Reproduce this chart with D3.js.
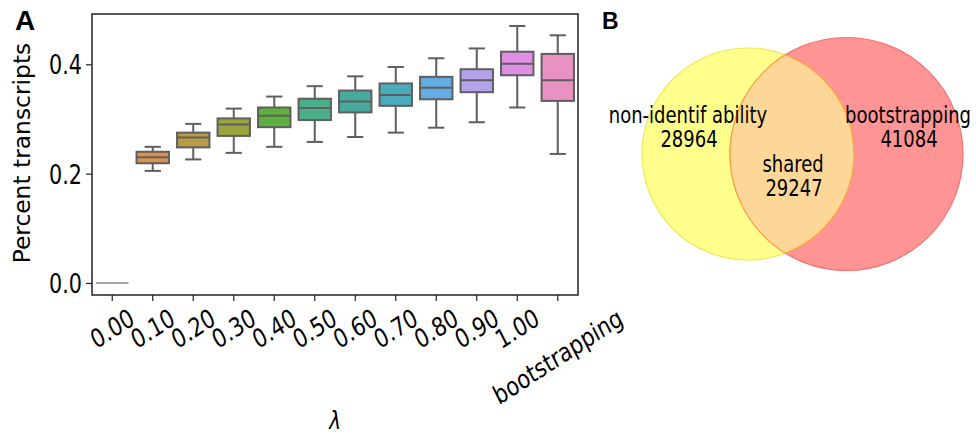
<!DOCTYPE html>
<html>
<head>
<meta charset="utf-8">
<script src="https://cdn.jsdelivr.net/npm/d3@7"></script>
<style>
  body { margin: 0; background: #fff; }
  svg text { font-family: "DejaVu Sans Condensed", "DejaVu Sans", sans-serif; font-stretch: condensed; fill: #000; }
</style>
</head>
<body>
<svg id="chart" width="976" height="434"></svg>
<script>
// ---- data ----
var categories = ["0.00", "0.10", "0.20", "0.30", "0.40", "0.50", "0.60", "0.70", "0.80", "0.90", "1.00", "bootstrapping"];
var whiskerLow  = [0, 0.205, 0.226, 0.238, 0.249, 0.258, 0.267, 0.275, 0.284, 0.294, 0.321, 0.236];
var q1          = [0, 0.219, 0.248, 0.269, 0.285, 0.298, 0.312, 0.324, 0.336, 0.349, 0.380, 0.333];
var medians     = [0, 0.230, 0.266, 0.290, 0.306, 0.320, 0.332, 0.344, 0.357, 0.371, 0.401, 0.371];
var q3          = [0, 0.240, 0.275, 0.301, 0.321, 0.337, 0.352, 0.365, 0.377, 0.391, 0.423, 0.419];
var whiskerHigh = [0, 0.249, 0.291, 0.319, 0.341, 0.360, 0.378, 0.395, 0.411, 0.429, 0.470, 0.453];
var boxColors = ["#e8879a", "#e0914e", "#b89b45", "#9aa53d", "#5db03f", "#4bb08a", "#47aa9b", "#4aabbd", "#63ace4", "#b4a3ea", "#df8fe6", "#e991c1"];
var yTicks = [0, 0.2, 0.4];

var vennNames = ["non-identif ability", "bootstrapping"];
var vennOnly = [28964, 41084];
var sharedName = "shared";
var sharedCount = 29247;

var svg = d3.select("#chart");
var stretch = 1.13; // text in the figure is a little taller than the font

// places a text at (x,y) with the vertical stretch
function stretched(sel, tx, ty, rot) {
    sel.attr("x", 0).attr("y", 0)
       .attr("transform", "translate(" + tx + "," + ty + ") scale(1," + stretch + ")" + (rot ? " rotate(" + rot + ")" : ""));
}

// ---- panel A: box plot ----
var frame = { left: 92, right: 578, top: 14, bottom: 295 };

var x = d3.scaleBand()
    .domain(categories)
    .range([frame.left, frame.right]);

var y = d3.scaleLinear()
    .domain([-0.022, 0.492])
    .range([frame.bottom, frame.top]);

var rows = categories.map(function (c, i) {
    return { cat: c, lo: whiskerLow[i], q1: q1[i], med: medians[i], q3: q3[i], hi: whiskerHigh[i], color: boxColors[i] };
});

var boxW = x.bandwidth() * 0.8;
var lineCol = "#5f5f5f";

var box = svg.append("g").selectAll("g")
    .data(rows)
    .enter()
    .append("g")
    .attr("transform", function (d) { return "translate(" + (x(d.cat) + x.bandwidth() / 2) + ",0)"; });

// whiskers
box.append("line")
    .attr("x1", 0).attr("x2", 0)
    .attr("y1", function (d) { return y(d.hi); })
    .attr("y2", function (d) { return y(d.q3); })
    .attr("stroke", lineCol).attr("stroke-width", 2);
box.append("line")
    .attr("x1", 0).attr("x2", 0)
    .attr("y1", function (d) { return y(d.q1); })
    .attr("y2", function (d) { return y(d.lo); })
    .attr("stroke", lineCol).attr("stroke-width", 2);
// caps
box.filter(function (d) { return d.hi > d.lo; })
    .selectAll(".cap")
    .data(function (d) { return [d.hi, d.lo]; })
    .enter()
    .append("line")
    .attr("x1", -boxW / 4).attr("x2", boxW / 4)
    .attr("y1", function (v) { return y(v); })
    .attr("y2", function (v) { return y(v); })
    .attr("stroke", lineCol).attr("stroke-width", 2);

box.append("rect")
    .attr("x", -boxW / 2)
    .attr("width", boxW)
    .attr("y", function (d) { return y(d.q3); })
    .attr("height", function (d) { return y(d.q1) - y(d.q3); })
    .attr("fill", function (d) { return d.color; })
    .attr("stroke", function (d) { return d.hi > d.lo ? lineCol : "#8a8a8a"; })
    .attr("stroke-width", function (d) { return d.hi > d.lo ? 2 : 1.2; });

box.append("line")
    .attr("x1", -boxW / 2).attr("x2", boxW / 2)
    .attr("y1", function (d) { return y(d.med); })
    .attr("y2", function (d) { return y(d.med); })
    .attr("stroke", function (d) { return d.hi > d.lo ? lineCol : "#8a8a8a"; })
    .attr("stroke-width", function (d) { return d.hi > d.lo ? 2 : 1.5; });

// frame
svg.append("rect")
    .attr("x", frame.left).attr("y", frame.top)
    .attr("width", frame.right - frame.left)
    .attr("height", frame.bottom - frame.top)
    .attr("fill", "none")
    .attr("stroke", "#222").attr("stroke-width", 1.5);

// y axis
var yAxis = svg.append("g")
    .attr("transform", "translate(" + frame.left + ",0)")
    .call(d3.axisLeft(y).tickValues(yTicks).tickFormat(d3.format(".1f")).tickSize(6).tickPadding(4));
yAxis.select(".domain").remove();
yAxis.selectAll("line").attr("stroke", "#222").attr("stroke-width", 1.2);
yAxis.selectAll("text")
    .attr("font-family", null)
    .style("font-size", "23px")
    .attr("dy", "0.36em")
    .each(function () { stretched(d3.select(this), -10, 0); });

// x axis
var xAxis = svg.append("g")
    .attr("transform", "translate(0," + frame.bottom + ")")
    .call(d3.axisBottom(x).tickSize(6).tickFormat(""));
xAxis.select(".domain").remove();
xAxis.selectAll("line").attr("stroke", "#222").attr("stroke-width", 1.2);

var xFont = 23;
var labelTop = frame.bottom + 11;
var xl = svg.append("g").selectAll("text")
    .data(categories)
    .enter()
    .append("text")
    .text(function (d) { return d; })
    .attr("text-anchor", "middle")
    .attr("dy", "0.35em")
    .style("font-size", xFont + "px");
xl.each(function (d) {
    var L = this.getComputedTextLength();
    var h = (L * 0.5 + xFont * 0.85 * 0.866) * stretch;
    var cx = x(d) + x.bandwidth() / 2;
    var cy = labelTop + h / 2;
    stretched(d3.select(this), cx, cy, -30);
});

// axis titles
svg.append("text")
    .attr("text-anchor", "middle")
    .style("font-size", "23px")
    .text("Percent transcripts")
    .call(function (s) { s.attr("x", 0).attr("y", 0).attr("transform", "translate(30,153) rotate(-90) scale(" + stretch + ",1)"); });

svg.append("text")
    .attr("text-anchor", "middle")
    .style("font-size", "22px")
    .style("font-style", "italic")
    .text("\u03bb")
    .call(stretched, (frame.left + frame.right) / 2, 429);

svg.append("text")
    .attr("x", 15).attr("y", 30)
    .style("font-family", "'Liberation Sans', Arial, sans-serif")
    .style("font-weight", "bold")
    .style("font-size", "28px")
    .text("A");

// ---- panel B: venn ----
svg.append("text")
    .attr("x", 602).attr("y", 29)
    .style("font-family", "'Liberation Sans', Arial, sans-serif")
    .style("font-weight", "bold")
    .style("font-size", "23px")
    .text("B");

var setSizes = [vennOnly[0] + sharedCount, vennOnly[1] + sharedCount];
var r = d3.scaleSqrt().domain([0, setSizes[0]]).range([0, 106]);
var circles = [
    { cx: 748, cy: 154, r: r(setSizes[0]), fill: "#ffff8c", stroke: "#eee85a" },
    { cx: 846.5, cy: 154, r: r(setSizes[1]), fill: "#ff9494", stroke: "#f67272" }
];

var defs = svg.append("defs");
defs.append("clipPath").attr("id", "clipA")
    .append("circle")
    .attr("cx", circles[0].cx).attr("cy", circles[0].cy).attr("r", circles[0].r);
defs.append("clipPath").attr("id", "clipB")
    .append("circle")
    .attr("cx", circles[1].cx).attr("cy", circles[1].cy).attr("r", circles[1].r);

var venn = svg.append("g");
venn.selectAll("circle.set")
    .data(circles)
    .enter()
    .append("circle")
    .attr("class", "set")
    .attr("cx", function (d) { return d.cx; })
    .attr("cy", function (d) { return d.cy; })
    .attr("r", function (d) { return d.r; })
    .attr("fill", function (d) { return d.fill; })
    .attr("stroke", function (d) { return d.stroke; })
    .attr("stroke-width", 1.2);

// overlap region
venn.append("circle")
    .attr("cx", circles[1].cx).attr("cy", circles[1].cy).attr("r", circles[1].r)
    .attr("clip-path", "url(#clipA)")
    .attr("fill", "#fdd797");
// arcs inside the overlap
venn.append("circle")
    .attr("cx", circles[1].cx).attr("cy", circles[1].cy).attr("r", circles[1].r)
    .attr("clip-path", "url(#clipA)")
    .attr("fill", "none").attr("stroke", "#f5a93c").attr("stroke-width", 1.2);
venn.append("circle")
    .attr("cx", circles[0].cx).attr("cy", circles[0].cy).attr("r", circles[0].r)
    .attr("fill", "none").attr("stroke", "#f5a93c").attr("stroke-width", 1.2)
    .attr("clip-path", "url(#clipB)");

var vennLabels = [
    { x: 688, y: 123, name: vennNames[0], n: vennOnly[0] },
    { x: 908, y: 123, name: vennNames[1], n: vennOnly[1] },
    { x: 793, y: 172, name: sharedName, n: sharedCount }
];
var vl = svg.append("g").selectAll("g")
    .data(vennLabels)
    .enter()
    .append("g");
vl.append("text")
    .attr("text-anchor", "middle")
    .style("font-size", "20px")
    .text(function (d) { return d.name; })
    .each(function (d) { stretched(d3.select(this), d.x, d.y); });
vl.append("text")
    .attr("text-anchor", "middle")
    .style("font-size", "20px")
    .text(function (d) { return d.n; })
    .each(function (d) { stretched(d3.select(this), d.x + 1, d.y + 24); });
</script>
</body>
</html>
